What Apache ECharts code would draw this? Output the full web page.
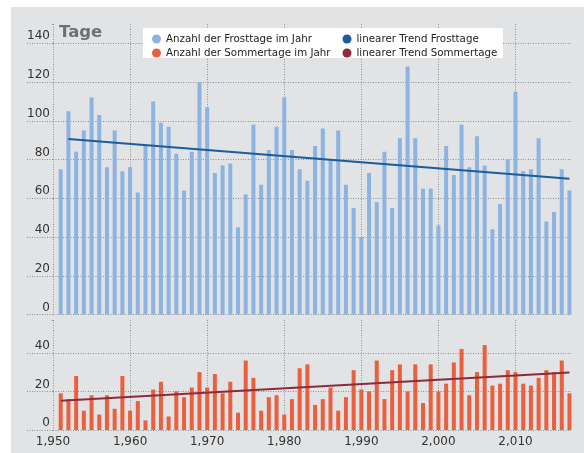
<!DOCTYPE html>
<html>
<head>
<meta charset="utf-8">
<script src="https://cdn.jsdelivr.net/npm/echarts@6/dist/echarts.min.js"></script>
<style>
html,body{margin:0;padding:0;background:#fff;}
#c{width:584px;height:453px;}
</style>
</head>
<body>
<div id="c"></div>
<script>
const years = [1951,1952,1953,1954,1955,1956,1957,1958,1959,1960,
  1961,1962,1963,1964,1965,1966,1967,1968,1969,1970,
  1971,1972,1973,1974,1975,1976,1977,1978,1979,1980,
  1981,1982,1983,1984,1985,1986,1987,1988,1989,1990,
  1991,1992,1993,1994,1995,1996,1997,1998,1999,2000,
  2001,2002,2003,2004,2005,2006,2007,2008,2009,2010,
  2011,2012,2013,2014,2015,2016,2017];
const frostDays = [75,105,84,95,112,103,76,95,74,76,
  63,87,110,99,97,83,64,84,120,107,
  73,77,78,45,62,98,67,85,97,112,
  85,75,69,87,96,80,95,67,55,40,
  73,58,84,55,91,128,91,65,65,46,
  87,72,98,76,92,77,44,57,80,115,
  74,75,91,48,53,75,64];
const summerDays = [19,16,28,10,18,8,18,11,28,10,
  15,5,21,25,7,20,17,22,30,22,
  29,19,25,9,36,27,10,17,18,8,
  16,32,34,13,16,22,10,17,31,21,
  20,36,16,31,34,20,34,14,34,20,
  24,35,42,18,30,44,23,24,31,30,
  24,23,27,31,30,36,19];
const trendFrost = [[1952, 90.6], [2017, 70.1]];
const trendSummer = [[1951, 15.2], [2017, 29.8]];
const topTicks = [0,20,40,60,80,100,120,140];
const bottomTicks = [0,20,40];
const xTicks = [1950,1960,1970,1980,1990,2000,2010];
const names = ['Anzahl der Frosttage im Jahr','Anzahl der Sommertage im Jahr','linearer Trend Frosttage','linearer Trend Sommertage'];

const C = {bg:'#e1e3e5', grid:'#8f9194', frost:'#8db3e0', summer:'#ea603e', tFrost:'#1b5c9b', tSummer:'#8e2a3d', text:'#333'};
const dotted = {color:C.grid, width:1, type:[1,1.5]};
const FONT = 'DejaVu Sans';

const chart = echarts.init(document.getElementById('c'), null, {renderer:'canvas'});
const pair = (xs, ys) => xs.map((x,i)=>[x, ys[i]]);

function yAxisCfg(idx, max, ticks){
  return {
    type:'value', gridIndex:idx, min:0, max:max, interval:20,
    axisLine:{show:false},
    axisTick:{show:true, length:26, inside:false, lineStyle:dotted},
    axisLabel:{customValues:ticks, margin:3, align:'right', verticalAlign:'bottom',
      padding:[0,0,1,0], fontFamily:FONT, fontSize:12, color:C.text},
    splitLine:{show:true, lineStyle:dotted, showMaxLine:false}
  };
}
function xAxisCfg(idx, labels){
  return {
    type:'value', gridIndex:idx, min:1950, max:2017.2, interval:10,
    axisLine:{show:false}, axisTick:{show:false},
    axisLabel:{show:labels, customValues:xTicks, margin:6, fontFamily:FONT, fontSize:12, color:C.text},
    splitLine:{show:true, lineStyle:dotted, showMaxLine:false}
  };
}

chart.setOption({
  animation:false,
  backgroundColor:'#fff',
  graphic:[
    {type:'rect', shape:{x:11, y:7, width:573, height:446}, style:{fill:C.bg}, z:-10, silent:true},
    {type:'rect', shape:{x:24, y:21, width:28, height:6}, style:{fill:C.bg}, z:10, silent:true},
    {type:'rect', shape:{x:24, y:317, width:28, height:6}, style:{fill:C.bg}, z:10, silent:true},
    {type:'rect', shape:{x:143, y:28, width:360, height:30}, style:{fill:'#fff'}, z:3, silent:true},
    {type:'text', x:59, y:24, style:{text:'Tage', fontFamily:FONT, fontSize:16.5, fontWeight:'bold', fill:'#6e7174'}, z:5}
  ],
  grid:[
    {left:53, right:13, top:24, bottom:138.5},
    {left:53, right:13, top:320, bottom:23}
  ],
  xAxis:[xAxisCfg(0,false), xAxisCfg(1,true)],
  yAxis:[yAxisCfg(0,150,topTicks), yAxisCfg(1,57,bottomTicks)],
  legend:[
    {data:[names[0],names[1]], orient:'vertical', left:147, top:28, itemWidth:9, itemHeight:9, itemGap:2, icon:'circle',
      textStyle:{fontFamily:FONT, fontSize:10.3, lineHeight:12, color:'#222'}, z:6},
    {data:[names[2],names[3]], orient:'vertical', left:337.5, top:28, itemWidth:9, itemHeight:9, itemGap:2, icon:'circle',
      textStyle:{fontFamily:FONT, fontSize:10.3, lineHeight:12, color:'#222'}, z:6}
  ],
  series:[
    {name:names[0], type:'bar', xAxisIndex:0, yAxisIndex:0, barWidth:4, itemStyle:{color:C.frost}, data:pair(years, frostDays), z:2},
    {name:names[1], type:'bar', xAxisIndex:1, yAxisIndex:1, barWidth:4, itemStyle:{color:C.summer}, data:pair(years, summerDays), z:2},
    {name:names[2], type:'line', xAxisIndex:0, yAxisIndex:0, symbol:'none', lineStyle:{color:C.tFrost, width:2}, itemStyle:{color:C.tFrost}, data:trendFrost, z:4},
    {name:names[3], type:'line', xAxisIndex:1, yAxisIndex:1, symbol:'none', lineStyle:{color:C.tSummer, width:2}, itemStyle:{color:C.tSummer}, data:trendSummer, z:4}
  ]
});
</script>
</body>
</html>
